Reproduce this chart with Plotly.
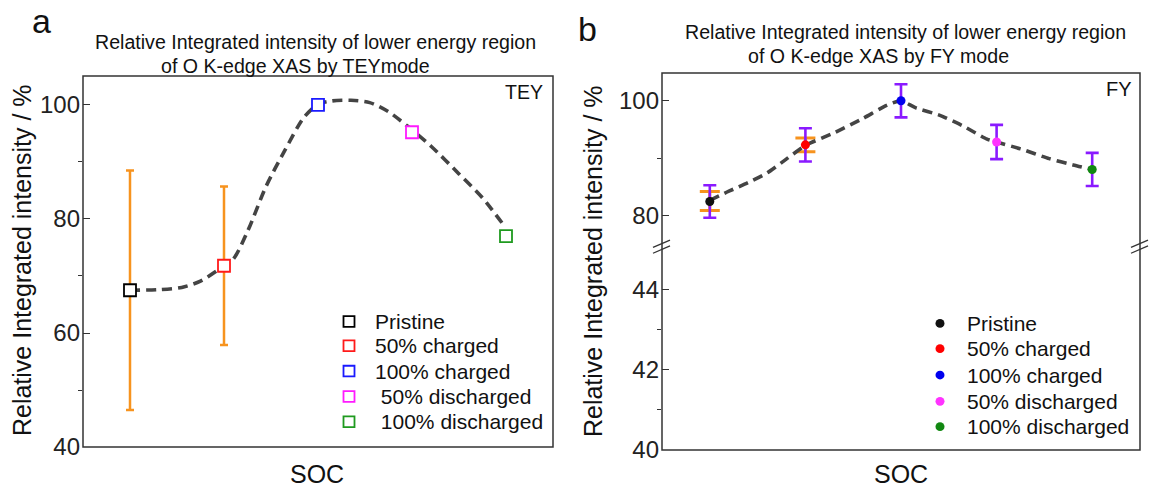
import plotly.graph_objects as go

W, H = 1152, 501

# ---------------- data ----------------
states = ["Pristine", "50% charged", "100% charged", "50% discharged", "100% discharged"]
legend_a = ["Pristine", "50% charged", "100% charged", " 50% discharged", " 100% discharged"]
legend_b = ["Pristine", "50% charged", "100% charged", "50% discharged", "100% discharged"]
soc_x = [1, 2, 3, 4, 5]
colors_a = ["#000000", "#ff1a1a", "#1a1aff", "#ff1aff", "#1f9a1f"]
colors_b = ["#111111", "#ff0000", "#0000ee", "#ff33ff", "#118811"]

# TEY panel
tey = [67.5, 71.8, 100.0, 95.2, 77.0]
tey_err_x = [1, 2]
tey_err_y = [67.5, 71.8]
tey_err = [21.0, 13.9]
tey_trend_x = [1.0, 1.3, 1.55, 1.75, 1.95, 2.1, 2.25, 2.45, 2.65, 2.85, 3.0, 3.15,
               3.35, 3.55, 3.75, 3.95, 4.2, 4.5, 4.75, 4.99]
tey_trend_y = [67.5, 67.6, 68.0, 69.1, 71.2, 73.0, 77.8, 85.8, 92.1, 97.8, 100.1, 100.7,
               100.8, 100.4, 98.8, 96.3, 92.8, 87.9, 83.7, 78.6]

# FY panel
fy = [82.4, 92.3, 100.0, 92.8, 88.0]
fy_err = [2.85, 2.9, 2.9, 3.0, 2.9]
fy_err2_x = [1, 2]
fy_err2_y = [82.5, 92.3]
fy_err2 = [1.65, 1.2]
fy_trend_x = [1.0, 1.2, 1.4, 1.6, 1.8, 2.0, 2.3, 2.6, 2.85, 3.0, 3.15, 3.4, 3.65,
              3.9, 4.0, 4.25, 4.55, 4.8, 5.0]
fy_trend_y = [82.6, 84.2, 85.7, 87.4, 89.8, 92.2, 94.4, 96.9, 99.2, 100.0, 98.8, 97.5, 95.6,
              93.3, 92.8, 91.6, 89.9, 88.8, 88.0]

# tick labels
ticks_a = [40, 60, 80, 100]
minor_a = [50, 70, 90]
ticks_b_low = [40, 42, 44]
minor_b_low = [41, 43]
ticks_b_up = [80, 100]
minor_b_up = [90]

# ---------------- layout helpers ----------------
FONT = "Liberation Sans, Arial, sans-serif"
AX = "#333333"


def px(x):
    return x / W


def py(y):
    return 1 - y / H


fig = go.Figure()

# ---- panel a ----
fig.add_trace(go.Scatter(
    x=tey_err_x, y=tey_err_y, mode="markers", xaxis="x", yaxis="y",
    marker=dict(size=2, color="rgba(0,0,0,0)"),
    error_y=dict(type="data", array=tey_err, color="#f7931e", thickness=2.5, width=4),
    showlegend=False, hoverinfo="skip"))
fig.add_trace(go.Scatter(
    x=tey_trend_x, y=tey_trend_y, mode="lines", xaxis="x", yaxis="y",
    line=dict(color="#444444", width=3.6, dash="10px,6px", shape="spline", smoothing=0.8),
    showlegend=False, hoverinfo="skip"))
fig.add_trace(go.Scatter(
    x=soc_x, y=tey, mode="markers", xaxis="x", yaxis="y",
    marker=dict(symbol="square", size=12, color="white",
                line=dict(color=colors_a, width=1.8)),
    showlegend=False, text=states))

# ---- panel b ----
fig.add_trace(go.Scatter(
    x=fy_err2_x, y=fy_err2_y, mode="markers", xaxis="x3", yaxis="y3",
    marker=dict(size=2, color="rgba(0,0,0,0)"),
    error_y=dict(type="data", array=fy_err2, color="#f7931e", thickness=3, width=10),
    showlegend=False, hoverinfo="skip"))
fig.add_trace(go.Scatter(
    x=soc_x, y=fy, mode="markers", xaxis="x3", yaxis="y3",
    marker=dict(size=2, color="rgba(0,0,0,0)"),
    error_y=dict(type="data", array=fy_err, color="#8a1aff", thickness=2.6, width=6.5),
    showlegend=False, hoverinfo="skip"))
fig.add_trace(go.Scatter(
    x=fy_trend_x, y=fy_trend_y, mode="lines", xaxis="x3", yaxis="y3",
    line=dict(color="#444444", width=3.6, dash="10px,6px", shape="spline", smoothing=0.6),
    showlegend=False, hoverinfo="skip"))
fig.add_trace(go.Scatter(
    x=soc_x, y=fy, mode="markers", xaxis="x3", yaxis="y3",
    marker=dict(symbol="circle", size=9, color=colors_b, line=dict(width=0)),
    showlegend=False, text=states))
# empty lower segment (keeps axis)
fig.add_trace(go.Scatter(x=[None], y=[None], xaxis="x2", yaxis="y2",
                         showlegend=False, hoverinfo="skip"))

xcommon = dict(range=[0.5, 5.5], showticklabels=False, showline=False, showgrid=False,
               zeroline=False, ticks="")
ycommon = dict(showline=False, showgrid=False, zeroline=False, ticks="inside", ticklen=7,
               tickwidth=1.3, tickcolor=AX, tickfont=dict(family=FONT, size=24, color="#222"),
               ticklabelstandoff=2)

fig.update_layout(
    width=W, height=H, margin=dict(l=0, r=0, t=0, b=0),
    paper_bgcolor="white", plot_bgcolor="white",
    xaxis=dict(domain=[px(83), px(553)], anchor="y", **xcommon),
    yaxis=dict(domain=[py(459), py(78)], anchor="x", range=[40, 105.07], tickvals=ticks_a,
               minor=dict(tickvals=minor_a, ticks="outside", ticklen=4, tickcolor=AX, tickwidth=1.2),
               **ycommon),
    xaxis2=dict(domain=[px(662), px(1140)], anchor="y2", **xcommon),
    yaxis2=dict(domain=[py(462), py(253)], anchor="x2", range=[40, 45.07], tickvals=ticks_b_low,
                minor=dict(tickvals=minor_b_low, ticks="outside", ticklen=4, tickcolor=AX, tickwidth=1.2),
                **ycommon),
    xaxis3=dict(domain=[px(662), px(1140)], anchor="y3", matches="x2", **xcommon),
    yaxis3=dict(domain=[py(253), py(75)], anchor="x3", range=[74.55, 104.85], tickvals=ticks_b_up,
                minor=dict(tickvals=minor_b_up, ticks="outside", ticklen=4, tickcolor=AX, tickwidth=1.2),
                **ycommon),
    showlegend=False,
)

shapes = []
# frames
shapes.append(dict(type="rect", xref="paper", yref="paper", x0=px(83), x1=px(553),
                   y0=py(459), y1=py(78), line=dict(color=AX, width=1.5)))
shapes.append(dict(type="rect", xref="paper", yref="paper", x0=px(662), x1=px(1140),
                   y0=py(462), y1=py(75), line=dict(color=AX, width=1.5)))
# break marks
for xb in (662, 1140):
    for dy in (0, 6):
        shapes.append(dict(type="line", xref="paper", yref="paper",
                           x0=px(xb - 9), y0=py(254 + dy), x1=px(xb + 8), y1=py(246.5 + dy),
                           line=dict(color=AX, width=1.3)))

annotations = []


def text(x, y, s, size, xanchor="center", yanchor="middle", angle=0, color="#111"):
    annotations.append(dict(xref="paper", yref="paper", x=px(x), y=py(y), text=s,
                            showarrow=False, xanchor=xanchor, yanchor=yanchor,
                            textangle=angle, font=dict(family=FONT, size=size, color=color)))


# legends (manual)
rows_a = [330, 355, 381, 407, 433]
for lab, c, yy in zip(legend_a, colors_a, rows_a):
    shapes.append(dict(type="rect", xref="paper", yref="paper",
                       x0=px(349 - 5.5), x1=px(349 + 5.5), y0=py(yy + 5.5), y1=py(yy - 5.5),
                       line=dict(color=c, width=1.8), fillcolor="white"))
    text(373, yy, lab.replace(" ", "&nbsp;", 1) if lab.startswith(" ") else lab, 21, xanchor="left")

rows_b = [332, 358, 385, 412, 438]
for lab, c, yy in zip(legend_b, colors_b, rows_b):
    shapes.append(dict(type="circle", xref="paper", yref="paper",
                       x0=px(940 - 4.5), x1=px(940 + 4.5), y0=py(yy + 4.5), y1=py(yy - 4.5),
                       line=dict(width=0), fillcolor=c))
    text(965, yy, lab, 21, xanchor="left")

# panel labels and titles
text(41, 0.5, "a", 34, yanchor="top")
text(587, 30, "b", 34)
text(315, 43, "Relative Integrated intensity of lower energy region", 19.6)
text(295, 68, "of O K-edge XAS by TEYmode", 19.6)
text(905, 33, "Relative Integrated intensity of lower energy region", 19.6)
text(878, 58, "of O K-edge XAS by FY mode", 19.6)
text(545, 94, "TEY", 19.5, xanchor="right")
text(1134, 91, "FY", 20, xanchor="right")
# axis titles
text(22, 267, "Relative Integrated intensity / %", 25, angle=-90)
text(593, 268, "Relative Integrated intensity / %", 25, angle=-90)
text(317, 487, "SOC", 25)
text(901, 487, "SOC", 25)

fig.update_layout(shapes=shapes, annotations=annotations)
fig.write_html("out.html")
